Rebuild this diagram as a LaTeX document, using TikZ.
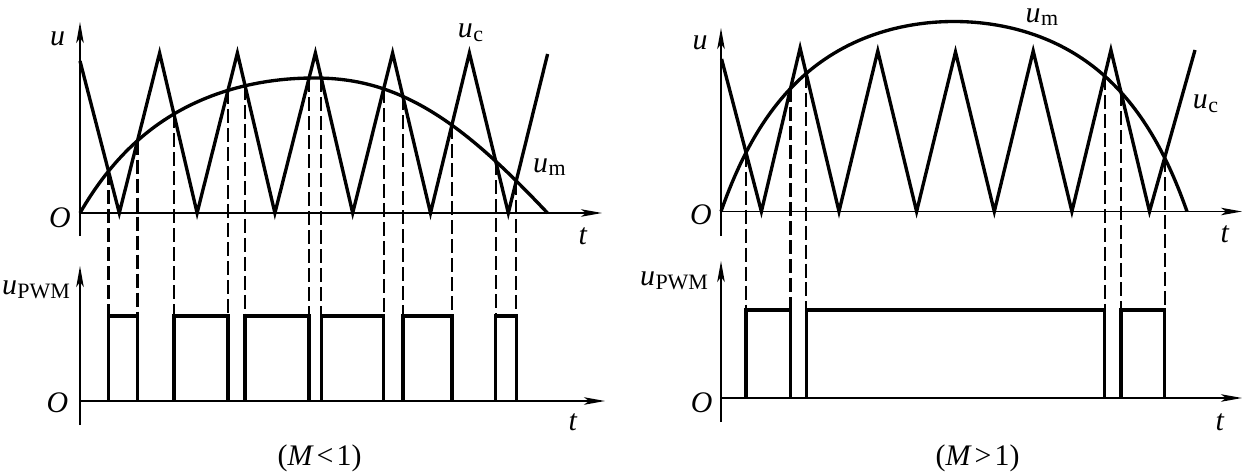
\documentclass[tikz,border=0pt]{standalone}
\usepackage{fontspec}
\setmainfont{Liberation Serif}
\usetikzlibrary{arrows.meta,intersections}
\newcommand{\vsub}[2]{\textit{#1}\kern0.3pt\raisebox{-2pt}{\fontsize{12.5}{13}\selectfont #2}}
\begin{document}
\begin{tikzpicture}[x=0.02cm,y=-0.02cm,
  axis/.style={line width=1.1pt,-{Stealth[length=0.42cm,width=0.15cm,inset=0.1cm]}},
  wave/.style={line width=1.9pt,line join=miter,miter limit=20},
  pulse/.style={line width=1.9pt},
  guide/.style={line width=1.2pt,dash pattern=on 0.28cm off 0.1cm},
  lab/.style={font=\fontsize{17}{20}\selectfont,inner sep=0pt}]
\useasboundingbox (0,0) rectangle (1244,473);

% ---------- left panel (M<1) ----------
\coordinate (L0)  at (80,213);
\coordinate (LyB) at (80,236);
\coordinate (LyT) at (80,22);
\coordinate (LxE) at (602,213);
\coordinate (Lb)  at (80,401);
\coordinate (LyB2) at (80,425);
\coordinate (LyT2) at (80,266);
\coordinate (LxE2) at (605,401);
\coordinate (Lhi) at (80,316);

\draw[axis] (LyB) -- (LyT);
\draw[axis] (L0) -- (LxE);
\draw[axis] (LyB2) -- (LyT2);
\draw[axis] (Lb) -- (LxE2);

\draw[wave,name path=modL] plot[domain=0:467.5,samples=170]
  ({80+\x},{213-135*sin(\x*0.385027)*(2.1+10*max(0,\x/467.5-0.5))/(sin(\x*0.385027)+1.1+10*max(0,\x/467.5-0.5))});
\draw[wave,name path=carL] (80,61) -- (119.3,213) -- (159.6,53) -- (197.1,213)
  -- (237.4,53) -- (274.9,213) -- (315.4,53) -- (352.7,213) -- (392.6,53)
  -- (430.5,213) -- (469.4,53) -- (508.3,213) -- (547.6,54);

\path[name intersections={of=modL and carL,sort by=modL,name=iL}];
\foreach \k in {1,...,12} \draw[guide] (iL-\k) -- (iL-\k |- Lhi);
\foreach \a/\b in {1/2,3/4,5/6,7/8,9/10,11/12}
  \draw[pulse] (iL-\a |- Lb) -- (iL-\a |- Lhi) -- (iL-\b |- Lhi) -- (iL-\b |- Lb);

\node[lab] (uL)  at (57.5,39)  {\textit{u}};
\node[lab] (oL)  at (60,218)   {\textit{O}};
\node[lab] (tL)  at (583,236)  {\textit{t}};
\node[lab] (ucL) at (470.5,33) {\vsub{u}{c}};
\node[lab] (umL) at (549.5,167) {\vsub{u}{m}};
\node[lab] (upL) at (36,290)   {\vsub{u}{PWM}};
\node[lab] (oL2) at (57.5,403) {\textit{O}};
\node[lab] (tL2) at (573,422)  {\textit{t}};
\node[lab] (mL)  at (319.5,458) {(\textit{M}\hspace{0.1em}<\hspace{0.1em}1)};

% ---------- right panel (M>1) ----------
\coordinate (R0)  at (721,211.5);
\coordinate (RyB) at (721,236);
\coordinate (RyT) at (721,28);
\coordinate (RxE) at (1242,211.5);
\coordinate (Rb)  at (721,398);
\coordinate (RyB2) at (721,422);
\coordinate (RyT2) at (721,261);
\coordinate (RxE2) at (1242,398);
\coordinate (Rhi) at (721,310);

\draw[axis] (RyB) -- (RyT);
\draw[axis] (R0) -- (RxE);
\draw[axis] (RyB2) -- (RyT2);
\draw[axis] (Rb) -- (RxE2);

\draw[wave,name path=modR] plot[domain=0:466,samples=170]
  ({721+\x},{211.5-190*sin(\x*0.386266)*1.813/(sin(\x*0.386266)+0.813)});
\draw[wave,name path=carR] (721.6,59) -- (761.4,211.5) -- (800.1,48) -- (839,211.5)
  -- (877.8,51) -- (916.6,211.5) -- (955.5,52) -- (994.3,211.5) -- (1033.2,51)
  -- (1071.9,211.5) -- (1110.9,50) -- (1149.5,211.5) -- (1195,50);

\path[name intersections={of=modR and carR,sort by=modR,name=iR}];
\foreach \k in {1,...,6} \draw[guide] (iR-\k) -- (iR-\k |- Rhi);
\foreach \a/\b in {1/2,3/4,5/6}
  \draw[pulse] (iR-\a |- Rb) -- (iR-\a |- Rhi) -- (iR-\b |- Rhi) -- (iR-\b |- Rb);

\node[lab] (uR)  at (700,43)   {\textit{u}};
\node[lab] (oR)  at (701,215)  {\textit{O}};
\node[lab] (tR)  at (1225,234) {\textit{t}};
\node[lab] (umR) at (1042,17)  {\vsub{u}{m}};
\node[lab] (ucR) at (1205.5,104) {\vsub{u}{c}};
\node[lab] (upR) at (674,281)  {\vsub{u}{PWM}};
\node[lab] (oR2) at (701.7,403) {\textit{O}};
\node[lab] (tR2) at (1220,422) {\textit{t}};
\node[lab] (mR)  at (977.5,458) {(\textit{M}\hspace{0.1em}>\hspace{0.1em}1)};
\end{tikzpicture}
\end{document}
